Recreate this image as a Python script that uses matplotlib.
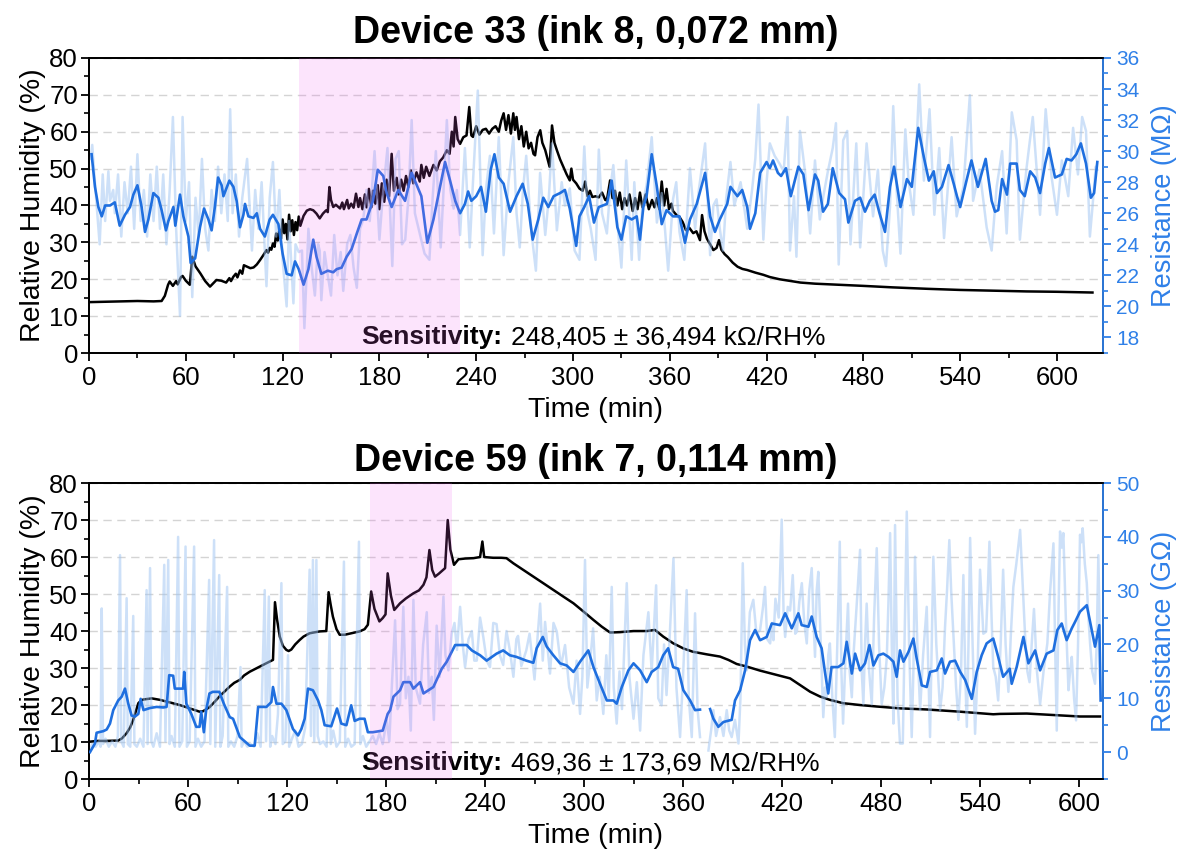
import numpy as np
import matplotlib.pyplot as plt
from matplotlib.ticker import MultipleLocator

plt.rcParams['font.family'] = ['Liberation Sans', 'DejaVu Sans']

BLUE = '#1f6fdf'
RAW = '#9cc3f2'
AXBLUE = '#2f80e8'
PINK = '#f060f0'

# ---- Device 33: (time min, value) ----
rh33 = np.array([
    (0.5, 13.8), (10, 13.9), (20, 14.0), (30, 14.1), (40, 14.0), (45, 14.1), (47, 15.5), (49, 18.5),
    (50, 19.4), (52, 18.2), (54, 19.5), (55, 18.6), (57, 20.6), (58, 20.9), (60, 19.6), (62.5, 18.5),
    (64, 26.1), (66, 23.5), (69, 21.6), (72, 19.5), (75, 18.0), (79, 19.8), (82, 19.6), (85, 19.1),
    (87, 20.3), (88, 19.5), (89.5, 20.7), (91, 21.5), (92, 20.5), (93.6, 22.4), (95, 21.5), (96, 23.8),
    (98, 23.4), (100, 23.0), (102, 23.2), (104, 24.0), (106, 25.2), (108, 26.5), (110, 27.9), (111, 27.2),
    (112, 28.5), (113, 28.0), (114, 29.7), (115, 28.8), (116, 32.4), (117, 30.5), (118, 33.5), (119, 31.0),
    (120, 36.2), (121, 32.5), (122, 35.0), (123, 30.8), (124, 37.5), (125, 33.0), (126, 36.0), (127, 32.0),
    (128, 35.5), (129, 33.3), (130, 37.0), (131, 34.5), (133, 37.2), (135, 38.6), (137, 39.0), (139, 38.7),
    (141, 37.8), (143, 36.5), (145, 37.8), (147, 38.7), (148, 38.2), (149, 45.0), (150, 41.5), (151.4, 39.6),
    (153, 40.2), (155.6, 39.2), (157, 40.8), (158, 39.0), (160, 41.5), (161, 39.2), (162.5, 40.5), (164, 39.4),
    (165.5, 43.2), (167, 39.6), (168, 42.0), (169.5, 39.0), (171, 43.0), (172, 39.5), (173.5, 44.5), (175, 39.5),
    (176, 44.0), (177.5, 40.5), (179, 45.5), (180, 39.0), (181.5, 46.0), (183, 41.0), (184.5, 47.0), (186, 42.5),
    (187.6, 54.0), (189, 44.0), (190.7, 47.5), (192, 43.0), (193.5, 47.0), (195, 44.0), (196.5, 48.0), (198, 45.0),
    (199.5, 49.5), (201, 46.0), (203, 49.0), (205, 46.5), (206, 51.0), (207.5, 47.5), (209, 50.5), (211, 48.0),
    (213.5, 51.0), (215.5, 49.5), (217.5, 52.0), (219.5, 53.0), (221.8, 55.0), (223.5, 54.0), (224.9, 60.0),
    (226, 56.0), (227, 64.0), (228.5, 58.0), (230, 56.7), (232, 58.5), (234, 59.0), (235.7, 66.7), (237, 59.0),
    (238, 58.6), (240, 61.5), (242, 59.2), (244, 60.5), (246, 60.8), (248, 59.5), (250, 60.8), (252, 61.5),
    (254, 60.0), (255.5, 63.0), (257, 65.0), (258.5, 60.5), (260, 64.5), (261.5, 59.5), (263, 65.0), (264, 60.5),
    (265, 64.0), (266.5, 58.0), (268, 61.5), (269.5, 56.0), (271, 60.0), (272.5, 55.5), (274, 57.0), (275.5, 54.0),
    (276.5, 53.6), (278, 58.5), (279.7, 60.4), (281, 57.0), (282.8, 55.0), (284, 53.0), (285.5, 50.5), (287, 61.7),
    (288.5, 57.0), (290, 55.0), (292, 52.5), (294, 50.5), (296, 48.5), (298, 46.8), (299, 50.0), (300, 47.0),
    (302, 46.0), (304, 44.6), (306, 44.0), (307.5, 46.5), (309, 42.5), (310.5, 44.0), (312, 42.3), (314, 42.5),
    (316, 42.2), (318, 43.5), (320, 41.5), (321, 41.4), (323, 46.8), (324.5, 42.0), (326, 44.0), (327.5, 40.0),
    (329, 43.5), (330.5, 39.0), (332, 42.0), (333.5, 40.0), (335, 43.0), (337, 38.5), (338.5, 42.0), (340, 39.0),
    (341.5, 43.5), (343, 39.5), (345, 43.0), (347, 39.0), (349, 41.5), (350.5, 39.5), (352, 42.0), (353.5, 39.0),
    (355, 46.5), (356.5, 40.0), (358, 44.5), (359.5, 39.0), (361, 40.5), (362, 38.5), (364, 37.5), (366, 36.9),
    (368, 35.5), (370, 33.3), (372, 34.0), (374.5, 32.5), (376.5, 33.0), (378.7, 30.6), (380, 37.4), (381.5, 33.0),
    (383, 31.0), (385, 29.5), (387, 27.9), (389, 28.5), (390.5, 30.6), (392, 28.0), (394, 26.8), (396, 26.0),
    (399, 24.5), (402, 23.4), (405, 22.8), (408, 22.5), (413, 21.8), (418, 21.2), (422, 20.6), (428, 20.0),
    (435, 19.5), (441, 19.1), (450, 18.8), (465, 18.5), (480, 18.2), (498, 17.8), (520, 17.4), (540, 17.1),
    (560, 16.9), (581, 16.7), (600, 16.6), (622, 16.4),
])

res33 = np.array([
    (1.6, 29.8), (3.7, 27.7), (5.8, 26.4), (7.9, 25.8), (10, 26.5), (13, 26.5), (16, 26.7), (19, 25.2),
    (22.3, 25.9), (25.4, 26.4), (27.5, 27.2), (30, 27.8), (32.6, 26.4), (34.7, 24.8), (36.8, 25.6), (39.9, 27.3),
    (43, 27.0), (45, 26.2), (47.7, 24.9), (49.2, 25.5), (52.3, 26.4), (53.5, 25.2), (56.4, 27.2), (58.5, 25.8),
    (61.6, 24.5), (63, 22.8), (65.8, 23.1), (68.8, 25.1), (71.3, 26.3), (74, 25.6), (76, 24.9), (78, 26.4),
    (80, 28.3), (82.2, 27.8), (83.3, 27.1), (87, 28.1), (89.5, 27.7), (91.5, 26.8), (93.6, 25.1), (95.7, 25.9),
    (96.7, 26.6), (98.8, 25.8), (101.9, 25.7), (104, 26.0), (106, 25.0), (109, 24.5), (112, 25.6), (114, 25.9),
    (117.4, 25.3), (120, 23.4), (122.5, 22.1), (125.6, 22.0), (127.7, 22.9), (130, 22.4), (133, 21.4), (136, 22.4),
    (139, 24.3), (141, 23.2), (144, 22.1), (148, 22.3), (151.4, 22.2), (153.5, 22.4), (156.6, 22.5), (159.7, 23.2),
    (162.8, 23.7), (166, 24.7), (169, 25.6), (172, 25.6), (176, 26.8), (179, 28.8), (182.4, 28.4), (184.5, 27.3),
    (187.6, 26.4), (191.7, 27.5), (195.9, 26.8), (200, 28.6), (206, 27.1), (209.7, 24.1), (213.5, 25.6),
    (217.6, 27.7), (220.7, 29.3), (223.8, 28.1), (227, 26.8), (230, 26.0), (233, 26.6), (235, 27.4), (237, 26.8),
    (240, 27.1), (243, 27.7), (246, 26.1), (249, 28.8), (251.3, 29.8), (254, 28.3), (257, 27.9), (261, 26.1),
    (265, 27.1), (268.8, 27.9), (272, 26.6), (275, 24.3), (278.5, 25.6), (281.6, 27.0), (284.7, 26.4), (288, 27.1),
    (292, 27.3), (295, 27.5), (298, 26.3), (302, 23.9), (304, 25.8), (307, 26.4), (310, 27.1), (313, 25.4),
    (316, 26.4), (321, 26.6), (324, 28.1), (327.5, 25.1), (330, 24.3), (333, 25.8), (336.4, 25.6), (339.5, 25.8),
    (341.5, 24.3), (343.6, 26.4), (345.6, 27.1), (348.8, 29.8), (352, 27.7), (355, 25.3), (358, 26.2), (362, 25.8),
    (366, 25.8), (369.4, 24.1), (372.5, 25.6), (376.7, 26.6), (381.9, 28.6), (385, 25.8), (388, 24.8), (391, 25.6),
    (395.6, 26.6), (397.6, 27.7), (401.9, 27.1), (404.9, 27.5), (408, 26.4), (409.7, 25.0), (413, 26.0),
    (416, 28.6), (420, 29.3), (422, 28.9), (424, 29.4), (427, 28.6), (429, 28.4), (432, 28.9), (435, 27.1),
    (439.7, 29.0), (442.8, 28.5), (446, 26.2), (450, 28.5), (452, 28.1), (455, 26.1), (458, 26.6), (461, 28.9),
    (465, 27.3), (468.6, 26.9), (470.7, 25.4), (474.8, 26.8), (478, 27.0), (481, 26.1), (484, 26.8), (487, 27.2),
    (490, 26.0), (493.4, 24.8), (496.5, 27.7), (499, 29.0), (503, 26.4), (507, 28.2), (510, 27.7), (514, 31.5),
    (517.5, 29.6), (520.6, 28.1), (523.6, 28.7), (525.6, 27.3), (528.7, 27.7), (532.8, 29.1), (536, 27.9),
    (538, 27.1), (540, 26.4), (543.9, 28.1), (547, 29.4), (551, 27.7), (555.8, 29.5), (559.5, 26.8), (561.6, 26.1),
    (563.6, 26.2), (566, 28.2), (569, 27.2), (571, 29.2), (575, 29.2), (577, 27.5), (580, 27.1), (583.4, 28.7),
    (586.5, 28.3), (589.5, 27.3), (592.7, 29.2), (595, 30.2), (598.8, 28.3), (603, 28.5), (606, 29.5), (609, 29.4),
    (612, 29.8), (614.8, 30.5), (618, 29.2), (621, 27.0), (623, 27.3), (625, 29.3),
])

raw33 = np.array([
    (1, 29.5), (2, 30.4), (4, 27.5), (6.6, 24.0), (8.5, 28.5), (10, 25.5), (12, 28.7), (13, 26.8), (15, 27.5),
    (16, 26.0), (18, 28.5), (20, 24.5), (22, 28.0), (24, 26.0), (26, 29.0), (28, 25.0), (30, 29.8), (32, 25.5),
    (34, 27.5), (36, 24.5), (38, 28.5), (40, 25.5), (42, 29.0), (44, 25.0), (46, 28.5), (48, 24.0), (50, 27.5),
    (52, 32.2), (54, 25.0), (56.4, 19.4), (58, 32.2), (60, 25.5), (62, 28.0), (64, 20.6), (66, 27.0), (68, 24.5),
    (70, 29.5), (72, 25.0), (74, 23.6), (76, 27.5), (78, 25.5), (80, 29.0), (82, 26.0), (84, 28.5), (86, 25.5),
    (87.5, 32.7), (89, 26.0), (91, 28.5), (93, 24.5), (95, 27.0), (98, 29.5), (101, 23.6), (103, 27.5), (105, 25.0),
    (107, 28.0), (110, 21.3), (112, 27.0), (114, 29.3), (116, 24.5), (118, 27.5), (120, 23.0), (122.5, 20.0),
    (124, 25.5), (126.7, 20.2), (128, 24.0), (130, 23.5), (132, 23.6), (133.5, 18.6), (136, 25.0), (138, 22.5),
    (140, 20.7), (142, 24.0), (143, 23.6), (144, 20.4), (146, 23.5), (148, 22.0), (150, 20.7), (152, 24.6),
    (154, 22.0), (156, 23.5), (157.6, 21.0), (160, 24.0), (162, 24.6), (164, 22.5), (166, 21.2), (168, 25.0),
    (170, 25.6), (172, 27.5), (174, 25.5), (177, 30.0), (180, 24.3), (182, 27.0), (185, 30.2), (188, 22.6),
    (190, 29.5), (192, 30.0), (194, 24.0), (196, 24.3), (198, 27.0), (200, 32.0), (202, 26.0), (205, 24.7),
    (208, 23.4), (211, 23.0), (213, 27.0), (215, 30.0), (218, 23.8), (220, 28.0), (221.8, 32.0), (224, 27.5),
    (226, 26.3), (228, 27.5), (230, 24.6), (233, 30.2), (236, 23.8), (238, 28.0), (241, 33.9), (244, 23.3),
    (246, 27.5), (248.5, 29.7), (251, 24.7), (254, 30.9), (257, 23.3), (260, 28.0), (263, 30.9), (265, 26.0),
    (267, 23.8), (269, 27.5), (271, 29.7), (274, 25.0), (277, 22.3), (279.6, 28.6), (282.8, 24.6), (285, 27.0),
    (287, 30.5), (290, 24.9), (293, 28.0), (295, 26.5), (298, 27.6), (301, 23.6), (304, 23.0), (307, 30.3),
    (309, 26.0), (311, 25.0), (314, 23.0), (316, 30.1), (318, 26.0), (321, 24.7), (323, 27.5), (325, 29.1),
    (327, 26.0), (330, 22.5), (333, 29.4), (336.4, 23.0), (338, 28.0), (341, 23.0), (343, 26.5), (345.6, 27.8),
    (348.8, 30.9), (352, 25.4), (355, 27.3), (357, 25.0), (359, 22.3), (362, 26.9), (364, 28.0), (366, 24.8),
    (369, 23.0), (372.5, 28.9), (375.7, 25.0), (378, 27.5), (381.9, 30.5), (385, 23.3), (387, 26.5), (389, 26.9),
    (391, 25.0), (393, 23.6), (395, 27.0), (397.6, 29.3), (400, 26.5), (403.9, 28.0), (408, 25.0), (411, 27.5),
    (413, 29.5), (415, 33.0), (418, 24.3), (420, 28.0), (422, 30.5), (425, 29.7), (428, 29.2), (430.6, 28.7),
    (433, 32.2), (434.5, 23.6), (437, 27.1), (438.5, 23.2), (440.7, 31.3), (443.8, 28.7), (447, 24.7), (450, 29.4),
    (453, 25.6), (455, 27.0), (458, 28.7), (461, 30.2), (463, 31.8), (464.7, 22.7), (467.5, 30.7), (470, 31.3),
    (472, 24.0), (475.6, 30.5), (478, 23.8), (482, 30.5), (486, 25.8), (489, 28.8), (492, 23.6), (494, 22.6),
    (496.5, 26.4), (498.5, 32.9), (500.6, 27.5), (503, 23.4), (506, 31.4), (508, 28.1), (511, 25.9), (514.6, 34.3),
    (517.5, 28.1), (521, 32.7), (524, 25.9), (527, 30.2), (530, 24.4), (534.7, 30.9), (537.8, 25.8), (542, 27.7),
    (546, 33.6), (548, 26.8), (552, 28.8), (556.4, 25.1), (559.5, 23.6), (562.6, 27.7), (566, 30.0), (568.8, 24.7),
    (572, 32.5), (575, 30.7), (577, 24.3), (581, 28.8), (585, 32.2), (589.5, 25.9), (593, 32.7), (596.7, 28.3),
    (600, 25.9), (603, 29.4), (607, 27.1), (610, 31.5), (613, 28.5), (615.6, 32.2), (618, 31.3), (620.4, 24.5),
    (622, 26.4), (624, 29.0), (625, 28.8),
])

# ---- Device 59 ----
rh59 = np.array([
    (0.6, 10.1), (5, 10.3), (10, 10.3), (17.7, 10.4), (20, 11.0), (22.8, 12.4), (25, 14.0), (26.8, 16.0),
    (28.5, 18.5), (29.9, 20.5), (31.5, 21.2), (33, 21.5), (38, 21.8), (43, 21.4), (49, 20.7), (55, 20.0),
    (61, 19.1), (67, 18.2), (69, 18.3), (73, 19.4), (76, 20.8), (79, 22.3), (82, 23.6), (85.3, 25.0), (88, 26.0),
    (91.4, 26.8), (94, 28.0), (97.4, 29.0), (100, 29.6), (103.5, 30.4), (107.5, 31.3), (111.5, 32.2), (112.7, 47.8),
    (114, 43.0), (115.6, 38.5), (117.5, 36.0), (119.6, 34.9), (121, 34.6), (122.6, 35.0), (125, 36.4),
    (127.7, 37.6), (130, 38.5), (133.7, 39.4), (139.8, 39.9), (143.8, 40.0), (145.2, 50.5), (146.5, 47.0),
    (147.8, 43.9), (150, 40.5), (151.9, 39.0), (155, 39.0), (158, 39.3), (164, 39.9), (167, 40.5), (169, 41.7),
    (171, 50.7), (173, 46.0), (176, 42.6), (178, 43.5), (179.7, 44.5), (181, 55.6), (183, 49.5), (185, 45.7),
    (188.5, 47.5), (192, 48.8), (196.6, 50.2), (200, 51.0), (202.7, 52.5), (204.5, 54.5), (206.3, 61.9),
    (208, 56.5), (209.7, 54.7), (212, 55.5), (215.8, 57.0), (217.4, 70.0), (219, 62.0), (221.2, 57.9),
    (223.9, 59.4), (228, 59.6), (233, 59.7), (237, 60.0), (238.4, 64.2), (239.5, 60.0), (245, 59.8), (250, 59.8),
    (253, 59.7), (257.2, 58.3), (263.3, 56.5), (269.3, 54.7), (275.4, 52.9), (281.4, 51.1), (287.5, 49.3),
    (293.6, 47.5), (299.6, 45.3), (305.7, 43.0), (310.7, 41.2), (315.8, 39.6), (321.8, 39.7), (330, 40.0),
    (338, 40.0), (343, 40.3), (348, 38.5), (354, 36.7), (360.2, 35.3), (366, 34.4), (374.4, 33.7), (382.4, 33.1),
    (387.5, 32.2), (392.5, 31.1), (398.6, 30.4), (406.7, 29.3), (412.8, 28.6), (418.8, 27.9), (424.9, 27.2),
    (431, 25.4), (437, 23.6), (443, 22.3), (449, 21.4), (457, 20.5), (467.3, 20.0), (477.4, 19.6), (491.5, 19.1),
    (507.7, 18.8), (527.9, 18.2), (548, 17.5), (552, 17.6), (568.3, 17.7), (588.5, 17.2), (600.6, 16.9),
    (612.7, 16.9),
])

res59 = np.array([
    (0.6, 0.0), (3.6, 1.6), (4.6, 3.6), (8.7, 3.9), (10.7, 4.2), (12.7, 5.3), (14.7, 7.8), (17.7, 9.6),
    (19.8, 10.3), (21.8, 11.8), (23.8, 9.0), (25.8, 6.8), (27.8, 6.6), (29.9, 7.1), (31.3, 9.9), (33, 7.8),
    (37, 8.2), (41, 8.4), (45, 8.3), (47, 8.4), (48.6, 14.3), (51, 14.2), (52, 11.8), (57, 11.8), (57.7, 14.9),
    (59, 9.0), (62, 7.1), (65, 4.7), (67, 4.7), (68, 7.5), (69.6, 3.7), (71, 7.8), (73, 10.9), (75, 11.2),
    (79, 11.2), (81.7, 9.0), (85.3, 6.5), (87.3, 6.2), (91.4, 2.8), (97.4, 1.2), (100.4, 1.2), (102.5, 8.4),
    (107.5, 8.4), (110.5, 9.3), (111.5, 12.1), (113.6, 9.0), (116.6, 9.0), (119.6, 7.8), (123.6, 4.3),
    (126.7, 3.1), (128.7, 4.3), (130.7, 6.2), (132.7, 11.8), (135.7, 11.5), (138.8, 9.6), (140.8, 7.8),
    (142.8, 5.0), (146.8, 4.8), (150.3, 8.1), (152.9, 5.3), (156, 5.0), (158.9, 8.7), (161, 5.8), (164, 6.2),
    (167, 6.2), (169, 3.7), (172, 3.7), (178, 4.0), (181, 7.1), (182.5, 7.8), (184.5, 10.3), (188.5, 11.5),
    (190.5, 13.0), (194.6, 13.0), (196.6, 11.8), (200.6, 13.0), (202.7, 10.9), (208.7, 12.1), (213.8, 15.5),
    (216.8, 16.8), (221.9, 19.9), (228.9, 19.9), (232, 18.9), (237, 18.0), (241, 17.0), (247, 18.3), (251, 18.9),
    (255, 18.0), (259, 17.7), (265, 17.0), (269.3, 16.6), (271.3, 19.3), (275, 21.4), (277.4, 19.6),
    (281.4, 18.0), (285.5, 16.5), (289.5, 16.1), (293.6, 14.9), (297.6, 16.8), (302.6, 18.9), (305.7, 15.8),
    (309.7, 12.7), (313.8, 9.6), (317.8, 9.6), (319.8, 9.0), (322.9, 12.1), (326.9, 15.2), (330, 16.5),
    (334, 15.2), (338, 13.0), (341, 14.9), (345, 15.8), (348, 18.0), (351, 19.3), (354, 15.8), (357, 15.5),
    (360.2, 11.5), (364.3, 9.6), (367.3, 7.8), (370.3, 7.9), (373, np.nan), (376.4, 8.0), (378.4, 6.2),
    (381.4, 4.7), (384.5, 5.6), (389.5, 6.0), (391.5, 9.6), (394.6, 11.5), (397.6, 15.2), (400.6, 20.8),
    (403.7, 22.7), (406.7, 20.8), (410.7, 21.4), (413.8, 23.9), (418.8, 23.6), (421.9, 25.8), (425.9, 23.0),
    (429.9, 25.8), (431.9, 23.6), (436, 23.3), (438, 25.2), (441, 21.4), (444, 19.3), (446, 14.9), (448, 10.9),
    (450, 15.8), (454, 15.8), (457.2, 16.5), (459.2, 20.5), (462.3, 14.6), (464.3, 18.3), (467.3, 15.2),
    (470.3, 16.5), (473, 19.9), (475.4, 16.1), (478.4, 18.0), (481.4, 18.3), (484.5, 17.7), (487.5, 16.8),
    (489.5, 14.0), (491.5, 18.9), (493.6, 16.8), (496.6, 18.6), (499.6, 21.1), (501.6, 17.4), (504.7, 12.4),
    (507.7, 12.1), (509.7, 14.9), (513.8, 15.2), (516.8, 17.4), (518.8, 14.6), (521.8, 16.8), (524.9, 17.0),
    (528, 14.9), (531, 13.4), (535, 9.9), (538, 14.9), (541, 18.0), (544, 20.2), (548, 21.1), (551, 17.7),
    (554, 14.0), (558, 15.5), (559.2, 12.7), (562.2, 15.8), (566.3, 21.4), (569.3, 16.5), (573.4, 18.9),
    (576.4, 15.2), (580.4, 18.3), (584.5, 18.9), (586.9, 22.7), (589.5, 23.9), (592.5, 20.8), (595.6, 23.0),
    (597.6, 24.2), (600.6, 26.1), (604.7, 27.3), (607.7, 22.7), (609.7, 19.6), (612.3, 23.6), (613.1, 9.6),
])

raw59 = np.array([
    (0.5, 0.5), (2, 1.5), (4, 1.0), (6, 2.0), (7, 1.0), (7.7, 26.7), (8.5, 1.5), (10, 2.5), (12, 1.0), (14, 2.0),
    (16, 1.0), (17.5, 3.0), (18.8, 36.6), (19.5, 2.0), (21, 1.0), (22.8, 28.6), (23.5, 1.5), (25, 1.0),
    (26.8, 25.3), (27.5, 1.5), (29, 1.0), (31, 2.5), (33, 1.0), (34.9, 30.1), (35.5, 1.5), (37, 34.2), (37.8, 2.0),
    (39, 1.0), (41, 3.5), (43, 1.0), (45.6, 34.8), (46.3, 2.0), (48, 35.7), (48.8, 1.5), (50, 3.0), (52, 1.0),
    (54, 40.0), (54.8, 1.0), (56.5, 2.0), (58.5, 38.2), (59.3, 1.0), (61, 2.0), (63.7, 38.2), (64.5, 1.0),
    (66, 2.5), (68, 1.0), (70, 2.0), (72.8, 32.0), (73.5, 1.5), (75.8, 39.4), (76.5, 1.0), (78.9, 32.9),
    (79.6, 1.0), (81, 3.0), (83.7, 30.7), (84.4, 1.0), (86, 2.0), (88, 1.0), (90, 3.0), (91.8, 15.8), (92.5, 1.0),
    (94, 2.0), (96, 1.0), (98, 1.5), (100, 1.0), (102, 3.5), (104, 1.0), (106.5, 30.1), (107.3, 2.0),
    (109, 28.9), (109.8, 1.0), (111, 3.0), (113, 1.5), (114.5, 7.0), (116.6, 31.4), (117.4, 1.5), (119, 2.0),
    (120.6, 18.0), (121.3, 1.0), (123, 2.5), (125, 4.0), (127, 1.0), (129, 1.5), (131, 4.5), (133.7, 33.9),
    (134.5, 3.0), (135.7, 35.7), (136.5, 2.0), (137.8, 35.7), (138.6, 3.0), (140, 1.5), (142, 2.0), (144, 1.0),
    (145.8, 22.0), (146.5, 1.5), (148, 4.0), (150, 1.0), (152, 2.0), (154.5, 35.4), (155.3, 1.0), (157, 2.5),
    (159, 1.0), (161, 1.5), (163.6, 39.1), (164.4, 1.5), (166, 3.0), (168, 1.0), (170, 2.0),
    (172, 3.0), (174, 1.5), (176, 3.5), (178, 1.5), (180.4, 6.0), (182, 2.0), (183.5, 12.0), (185.5, 24.5),
    (187, 8.0), (188.5, 9.0), (190.5, 27.0), (192, 10.0), (193.6, 14.0), (195, 4.0), (196.6, 28.3), (198, 12.0),
    (200.6, 9.0), (202.5, 20.0), (204.7, 26.0), (206, 11.0), (207.7, 14.0), (209, 6.0), (210.7, 23.5),
    (212.5, 14.0), (214.8, 28.9), (216, 18.0), (217.8, 15.2), (219.8, 22.0), (221.5, 24.0), (223, 19.0),
    (224.9, 27.0), (226.5, 20.0), (227.9, 15.8), (230, 21.0), (232, 22.5), (233.5, 17.0), (235, 17.0),
    (237, 25.0), (239, 21.3), (241, 17.0), (243, 15.8), (245, 24.0), (247, 23.8), (249, 18.0), (251, 16.2),
    (253, 22.5), (255, 19.0), (257.2, 14.0), (259, 21.0), (260, 21.6), (262, 16.0), (265, 18.9), (267, 22.0),
    (270, 13.5), (271.5, 20.0), (273.4, 27.6), (275, 17.0), (276.4, 24.2), (278, 19.0), (279.4, 14.6),
    (281.5, 24.0), (283.5, 22.4), (286, 16.0), (288.5, 19.9), (291, 12.0), (293.6, 9.0), (295.5, 17.0),
    (297.6, 7.1), (299, 14.0), (300.6, 35.7), (302, 12.0), (303.7, 16.8), (305.5, 23.0), (307.7, 9.6),
    (309.5, 14.0), (311.7, 7.1), (313.5, 18.0), (315, 10.0), (316.8, 30.7), (318, 12.0), (319.8, 5.3),
    (321.5, 15.0), (323, 8.0), (325.9, 31.4), (327.5, 14.0), (330, 6.2), (332, 13.0), (334, 4.0), (336, 18.0),
    (339, 26.0), (341, 15.0), (343.7, 31.0), (345, 10.0), (347, 8.7), (348.5, 20.0), (350, 10.6), (352, 22.0),
    (354.2, 36.0), (356, 12.0), (358.2, 2.8), (360, 14.0), (362.2, 30.1), (363.5, 10.0), (365.3, 2.8),
    (367.3, 25.8), (368.8, 8.0), (370.3, 2.8), (373, np.nan), (375.4, 0.3), (377, 4.0), (378.4, 7.8), (380, 3.0),
    (382.4, 6.5), (384.5, 3.0), (386.5, 7.8), (388, 4.0), (389.5, 2.8), (391.5, 6.0), (393.6, 1.6), (394.8, 10.0),
    (396.2, 35.1), (397.5, 20.0), (398.6, 15.2), (400.5, 26.0), (402.6, 28.3), (404.5, 22.0), (406.7, 22.7),
    (408.5, 27.0), (409.7, 30.7), (411, 21.0), (412.8, 20.2), (414, 24.0), (414.8, 20.8), (416, 28.5),
    (418, 25.0), (419.8, 43.2), (421, 25.0), (421.9, 21.4), (423.5, 27.0), (424.9, 26.3), (426.5, 32.9),
    (428, 22.0), (429, 22.4), (430.5, 28.0), (432, 31.4), (433.5, 24.0), (435, 20.2), (436.5, 30.0), (438, 34.2),
    (439, 25.0), (440, 17.7), (441, 30.0), (442, 33.5), (443.5, 20.0), (445, 6.5), (446, 12.0), (447, 10.2),
    (448, 18.0), (449, 20.2), (450.5, 10.0), (452, 2.8), (453.5, 20.0), (455, 39.1), (456, 15.0), (457, 5.3),
    (458.5, 18.0), (460, 27.6), (461, 15.0), (462.3, 10.2), (463.3, 18.0), (464.3, 22.7), (465.8, 30.0),
    (467.3, 37.6), (468.3, 15.0), (469.3, 8.9), (470.3, 20.0), (471.3, 27.6), (472.8, 15.0), (474.4, 8.9),
    (475.8, 25.0), (477.4, 37.9), (478.8, 20.0), (480.4, 8.9), (482, 12.0), (483.5, 17.6), (484.5, 28.0),
    (485.5, 40.7), (486.5, 20.0), (487.5, 5.3), (488.5, 42.2), (490, 10.0), (491.5, 1.6), (493.2, 1.6),
    (494.5, 25.0), (495.6, 44.7), (497, 20.0), (498.6, 2.8), (499.6, 15.0), (500.6, 36.3), (502, 20.0),
    (503.7, 7.8), (505.5, 18.0), (507.7, 27.0), (508.7, 15.0), (509.7, 2.8), (510.7, 20.0), (511.7, 36.3),
    (513.5, 20.0), (515.8, 7.8), (517.3, 12.0), (518.8, 23.3), (520, 30.0), (521.4, 39.4), (522.5, 30.0),
    (523.9, 21.7), (525.5, 12.0), (526.9, 6.0), (528.5, 15.0), (529.9, 32.9), (531, 15.0), (532, 4.7),
    (533, 20.0), (534, 39.8), (535.5, 20.0), (537, 3.4), (538.5, 15.0), (540, 33.9), (542, 22.0), (543.7, 22.4),
    (544.7, 30.0), (545.7, 39.1), (547, 25.0), (548, 15.8), (549.5, 14.0), (551, 9.6), (552.5, 20.0),
    (554, 33.9), (555.5, 20.0), (557.2, 11.2), (558.7, 22.0), (560.2, 30.7), (562, 35.0), (564.3, 41.3),
    (566, 30.0), (567.3, 21.7), (568.7, 15.0), (570, 13.0), (571.3, 20.0), (572.7, 26.6), (574.5, 15.0),
    (576.4, 8.9), (578.5, 15.0), (580.8, 20.2), (582.5, 30.0), (584.5, 38.8), (585.5, 20.0), (586.5, 4.0),
    (587.5, 25.0), (588.5, 41.0), (589.5, 38.0), (590.5, 40.7), (592, 25.0), (593.6, 11.5), (594.6, 15.0),
    (595.6, 17.7), (597, 10.0), (598.2, 5.9), (599.4, 20.0), (600.6, 40.4), (601.4, 39.0), (602.2, 41.6),
    (603.5, 35.0), (604.7, 31.4), (605.7, 25.0), (606.7, 20.2), (608, 15.0), (609.7, 12.7), (610.7, 20.0),
    (611.7, 36.6), (612.7, 20.2),
])

fig = plt.figure(figsize=(11.79, 8.5), dpi=100)


def panel(rect, title, rh, res, raw, xmax, span, rlim, rmaj, rmin, runit, sens, tpad):
    ax = fig.add_axes(rect)
    ax2 = ax.twinx()

    ax.yaxis.grid(True, linestyle=(0, (6, 4)), color='#d4d4d4', lw=1.0)
    ax.set_axisbelow(True)
    ax.plot(rh[:, 0], rh[:, 1], color='black', lw=1.8, zorder=3)
    ax2.plot(raw[:, 0], raw[:, 1], color=RAW, lw=1.8, alpha=0.5, zorder=2)
    ax2.plot(res[:, 0], res[:, 1], color=BLUE, lw=1.9, zorder=3)
    ax2.axvspan(span[0], span[1], color=PINK, alpha=0.17, lw=0, zorder=10)

    ax.set_xlim(0, xmax)
    ax.set_ylim(0, 80)
    ax2.set_ylim(*rlim)
    ax.xaxis.set_major_locator(MultipleLocator(60))
    ax.xaxis.set_minor_locator(MultipleLocator(30))
    ax.yaxis.set_major_locator(MultipleLocator(10))
    ax.yaxis.set_minor_locator(MultipleLocator(5))
    ax2.yaxis.set_major_locator(MultipleLocator(rmaj))
    ax2.yaxis.set_minor_locator(MultipleLocator(rmin))

    for a in (ax, ax2):
        for s in a.spines.values():
            s.set_linewidth(1.3)
        a.tick_params(which='major', direction='out', length=6, width=1.3, labelsize=18.5)
        a.tick_params(which='minor', direction='out', length=3.5, width=1.2)
    ax.tick_params(axis='both', which='both', right=False, top=False)
    ax.tick_params(axis='y', pad=2)
    ax2.spines['right'].set_color(AXBLUE)
    ax2.tick_params(axis='y', which='both', colors=AXBLUE, labelsize=15)

    ax.set_xlabel('Time (min)', fontsize=20.5, labelpad=5)
    ax.set_ylabel('Relative Humidity (%)', fontsize=20.5, labelpad=2)
    ax2.set_ylabel(f'Resistance ({runit}Ω)', fontsize=19.5, color=AXBLUE, labelpad=8)
    ax.set_title(title, fontsize=27, fontweight='bold', pad=tpad)

    ax.text(0.408, 0.054, 'Sensitivity:', transform=ax.transAxes, ha='right',
            va='center', fontsize=19, fontweight='bold', zorder=5)
    ax.text(0.4165, 0.054, sens, transform=ax.transAxes, ha='left', va='center',
            fontsize=19, zorder=5)


panel([0.0755, 0.5847, 0.86, 0.3471], 'Device 33 (ink 8, 0,072 mm)', rh33, res33, raw33,
      628.5, (130, 230), (17, 36), 2, 1, 'M', '248,405 ± 36,494 kΩ/RH%', 11)
panel([0.0755, 0.0835, 0.86, 0.3482], 'Device 59 (ink 7, 0,114 mm)', rh59, res59, raw59,
      614.5, (170, 220), (-5, 50), 10, 5, 'G', '469,36 ± 173,69 MΩ/RH%', 8.5)

fig.savefig('out.png', dpi=100)
